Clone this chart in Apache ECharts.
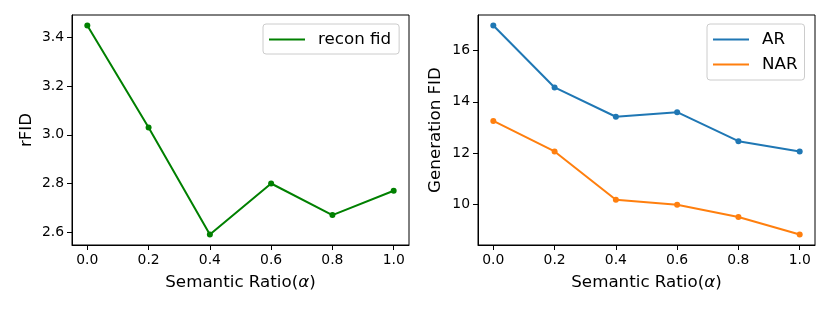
<!DOCTYPE html>
<html>
<head>
<meta charset="utf-8">
<script src="https://cdn.jsdelivr.net/npm/echarts@6/dist/echarts.min.js"></script>
<style>html,body{margin:0;padding:0;background:#fff}#c{width:830px;height:312px}</style>
</head>
<body>
<div id="c"></div>
<script>
const xValues = [0.0, 0.2, 0.4, 0.6, 0.8, 1.0];
const rfid = [3.45, 3.03, 2.59, 2.80, 2.67, 2.77];
const arFid = [16.97, 14.56, 13.42, 13.60, 12.47, 12.07];
const narFid = [13.26, 12.07, 10.19, 10.00, 9.52, 8.84];
const xTicks = [0.0, 0.2, 0.4, 0.6, 0.8, 1.0];
const rfidTicks = [2.6, 2.8, 3.0, 3.2, 3.4];
const genTicks = [10, 12, 14, 16];

const FONT = 'DejaVu Sans';
const pairs = ys => xValues.map((x, i) => [x, ys[i]]);

function xAxis(gi) {
  return {
    type: 'value', gridIndex: gi, min: -0.05, max: 1.05,
    name: '{n|Semantic Ratio(}{a|α}{n|)}', nameLocation: 'middle', nameGap: 29,
    nameTextStyle: { fontFamily: FONT, fontSize: 16.7, color: '#000', verticalAlign: 'top',
      rich: { n: { fontFamily: FONT, fontSize: 16.7, color: '#000' },
              a: { fontFamily: FONT, fontSize: 16.7, color: '#000', fontStyle: 'italic' } } },
    axisLine: { show: true, onZero: false, lineStyle: { color: '#000', width: 1 } },
    axisTick: { show: true, length: 5, lineStyle: { color: '#000', width: 1 }, customValues: xTicks },
    axisLabel: { fontFamily: FONT, fontSize: 13.9, color: '#000', margin: 8, customValues: xTicks,
      formatter: v => v.toFixed(1) },
    splitLine: { show: false }
  };
}
function yAxis(gi, name, min, max, ticks, gap, fmt) {
  return {
    type: 'value', gridIndex: gi, min: min, max: max,
    name: name, nameLocation: 'middle', nameGap: gap,
    nameTextStyle: { fontFamily: FONT, fontSize: 16.7, color: '#000' },
    axisLine: { show: true, onZero: false, lineStyle: { color: '#000', width: 1 } },
    axisTick: { show: true, length: 5, lineStyle: { color: '#000', width: 1 }, customValues: ticks },
    axisLabel: { fontFamily: FONT, fontSize: 13.9, color: '#000', margin: 8, customValues: ticks, formatter: fmt },
    splitLine: { show: false }
  };
}
function series(name, data, color, xi) {
  return {
    name: name, type: 'line', xAxisIndex: xi, yAxisIndex: xi, data: pairs(data),
    symbol: 'circle', symbolSize: 6, showSymbol: true,
    lineStyle: { color: color, width: 2 }, itemStyle: { color: color },
    animation: false
  };
}
const legendCommon = {
  orient: 'vertical', icon: 'rect', itemWidth: 36, itemHeight: 2,
  backgroundColor: 'rgba(255,255,255,0.8)', borderColor: '#cccccc', borderWidth: 1, borderRadius: 3,
  textStyle: { fontFamily: FONT, fontSize: 16.7, color: '#000', lineHeight: 19, padding: [0, 0, 0, 8] },
  itemGap: 6
};
const chart = echarts.init(document.getElementById('c'), null, { renderer: 'canvas' });
chart.setOption({
  animation: false,
  backgroundColor: '#fff',
  grid: [
    { left: 72, top: 15, width: 337, height: 230, show: true, borderColor: '#000', borderWidth: 1 },
    { left: 478, top: 15, width: 337, height: 230, show: true, borderColor: '#000', borderWidth: 1 }
  ],
  xAxis: [xAxis(0), xAxis(1)],
  yAxis: [
    yAxis(0, 'rFID', 2.547, 3.493, rfidTicks, 37, v => v.toFixed(1)),
    yAxis(1, 'Generation FID', 8.43, 17.38, genTicks, 34, v => String(v))
  ],
  legend: [
    Object.assign({}, legendCommon, { data: ['recon fid'], left: 263, top: 24, padding: [6, 8, 5, 6] }),
    Object.assign({}, legendCommon, { data: ['AR', 'NAR'], left: 707, top: 24, padding: [6, 7, 6, 6] })
  ],
  series: [
    series('recon fid', rfid, '#008000', 0),
    series('AR', arFid, '#1f77b4', 1),
    series('NAR', narFid, '#ff7f0e', 1)
  ]
});
</script>
</body>
</html>
